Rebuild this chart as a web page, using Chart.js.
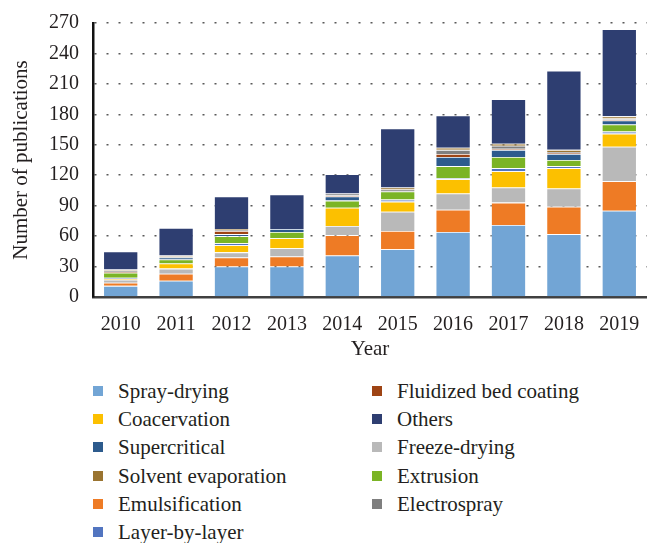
<!DOCTYPE html>
<html>
<head>
<meta charset="utf-8">
<script src="https://cdn.jsdelivr.net/npm/chart.js@4.4.1/dist/chart.umd.min.js"></script>
<style>
  html, body { margin: 0; padding: 0; background: #fff; }
  #wrap { position: relative; width: 647px; height: 543px; overflow: hidden; }
  #chart { position: absolute; left: 0; top: 0; }
  .lg { position: absolute; font: 21px "Liberation Serif", "DejaVu Serif", serif; color: #231f20; white-space: nowrap; line-height: 28px; }
  .lg i { position: absolute; left: -25px; top: 9px; width: 10px; height: 10px; }
</style>
</head>
<body>
<div id="wrap">
  <canvas id="chart" width="647" height="370"></canvas>
  <div id="legend"></div>
</div>
<script>
// ─── DATA ─────────────────────────────────────────────────────────────────────
const years = ['2010', '2011', '2012', '2013', '2014', '2015', '2016', '2017', '2018', '2019'];
const yTicks = [0, 30, 60, 90, 120, 150, 180, 210, 240, 270];

// stacked bottom -> top
const sprayDrying   = [11, 16, 30, 30, 41, 47, 64, 71, 62, 85];
const emulsification = [3, 7, 9, 10, 20, 18, 22, 22, 27, 29];
const freezeDrying  = [3, 5, 5, 8, 9, 19, 16, 15, 18, 34];
const coacervation  = [1, 5, 7, 10, 18, 10, 14, 16, 20, 13];
const layerByLayer  = [1, 0, 2, 0, 0, 2, 1, 3, 2, 2];
const extrusion     = [5, 4, 7, 6, 7, 8, 12, 11, 6, 7];
const supercritical = [0, 2, 2, 3, 4, 0, 9, 7, 6, 4];
const fluidizedBed  = [1, 0, 3, 0, 1, 0, 3, 1, 1, 1];
const electrospray  = [1, 1, 1, 0, 2, 2, 4, 3, 1, 1];
const solventEvap   = [1, 1, 1, 0, 0, 2, 2, 2, 2, 2];
const others        = [18, 27, 32, 34, 19, 58, 32, 44, 78, 86];

const legendOrder = [
  'Spray-drying', 'Fluidized bed coating',
  'Coacervation', 'Others',
  'Supercritical', 'Freeze-drying',
  'Solvent evaporation', 'Extrusion',
  'Emulsification', 'Electrospray',
  'Layer-by-layer',
];

// ─── STYLE ────────────────────────────────────────────────────────────────────
const FONT = '"Liberation Serif", "DejaVu Serif", serif';
const TXT = '#231f20';

const series = [
  { label: 'Spray-drying',          data: sprayDrying,    color: '#72a5d5' },
  { label: 'Emulsification',        data: emulsification, color: '#ee7b25' },
  { label: 'Freeze-drying',         data: freezeDrying,   color: '#b9b9b9' },
  { label: 'Coacervation',          data: coacervation,   color: '#fcc000' },
  { label: 'Layer-by-layer',        data: layerByLayer,   color: '#5275c0' },
  { label: 'Extrusion',             data: extrusion,      color: '#7bb425' },
  { label: 'Supercritical',         data: supercritical,  color: '#2d5b8d' },
  { label: 'Fluidized bed coating', data: fluidizedBed,   color: '#9e4414' },
  { label: 'Electrospray',          data: electrospray,   color: '#7f7f7f' },
  { label: 'Solvent evaporation',   data: solventEvap,    color: '#9a7430' },
  { label: 'Others',                data: others,         color: '#2e3e71' },
];

new Chart(document.getElementById('chart'), {
  type: 'bar',
  data: {
    labels: years,
    datasets: series.map(s => ({
      label: s.label,
      data: s.data,
      backgroundColor: s.color,
      borderColor: 'rgba(255,255,255,0.35)',
      borderWidth: 0.8,
      categoryPercentage: 1,
      barPercentage: 0.63,
    })),
  },
  options: {
    responsive: false,
    animation: false,
    layout: { padding: { top: 23, right: 0, left: 0, bottom: 0 } },
    plugins: { legend: { display: false }, tooltip: { enabled: false } },
    scales: {
      x: {
        stacked: true,
        grid: { display: false },
        border: { color: '#404040', width: 2.5 },
        ticks: { color: TXT, font: { family: FONT, size: 20 }, padding: 8, maxRotation: 0 },
        title: { display: true, text: 'Year', color: TXT, font: { family: FONT, size: 21 }, padding: { top: 0, bottom: 8 } },
        afterFit: s => { s.height = 73; s.paddingLeft = 0; s.paddingRight = 0; },
      },
      y: {
        stacked: true,
        min: 0,
        max: 270,
        afterBuildTicks: s => { s.ticks = yTicks.map(v => ({ value: v })); },
        grid: { color: '#595959', lineWidth: 1.5, drawTicks: false },
        border: { color: '#111', width: 2.5, dash: [2, 10] },
        ticks: { color: TXT, font: { family: FONT, size: 20 }, padding: 14 },
        title: { display: true, text: 'Number of publications', color: TXT, font: { family: FONT, size: 21 }, padding: { top: 9, bottom: 0 } },
        afterFit: s => { s.width = 93; s.paddingTop = 0; s.paddingBottom = 0; },
      },
    },
  },
});

// ─── LEGEND (two columns, row-wise) ───────────────────────────────────────────
const lg = document.getElementById('legend');
legendOrder.forEach((name, i) => {
  const s = series.find(d => d.label === name);
  const el = document.createElement('div');
  el.className = 'lg';
  el.style.left = (i % 2 ? 397 : 118) + 'px';
  el.style.top = (377 + Math.floor(i / 2) * 28.2) + 'px';
  el.innerHTML = '<i style="background:' + s.color + '"></i>' + name;
  lg.appendChild(el);
});
</script>
</body>
</html>
